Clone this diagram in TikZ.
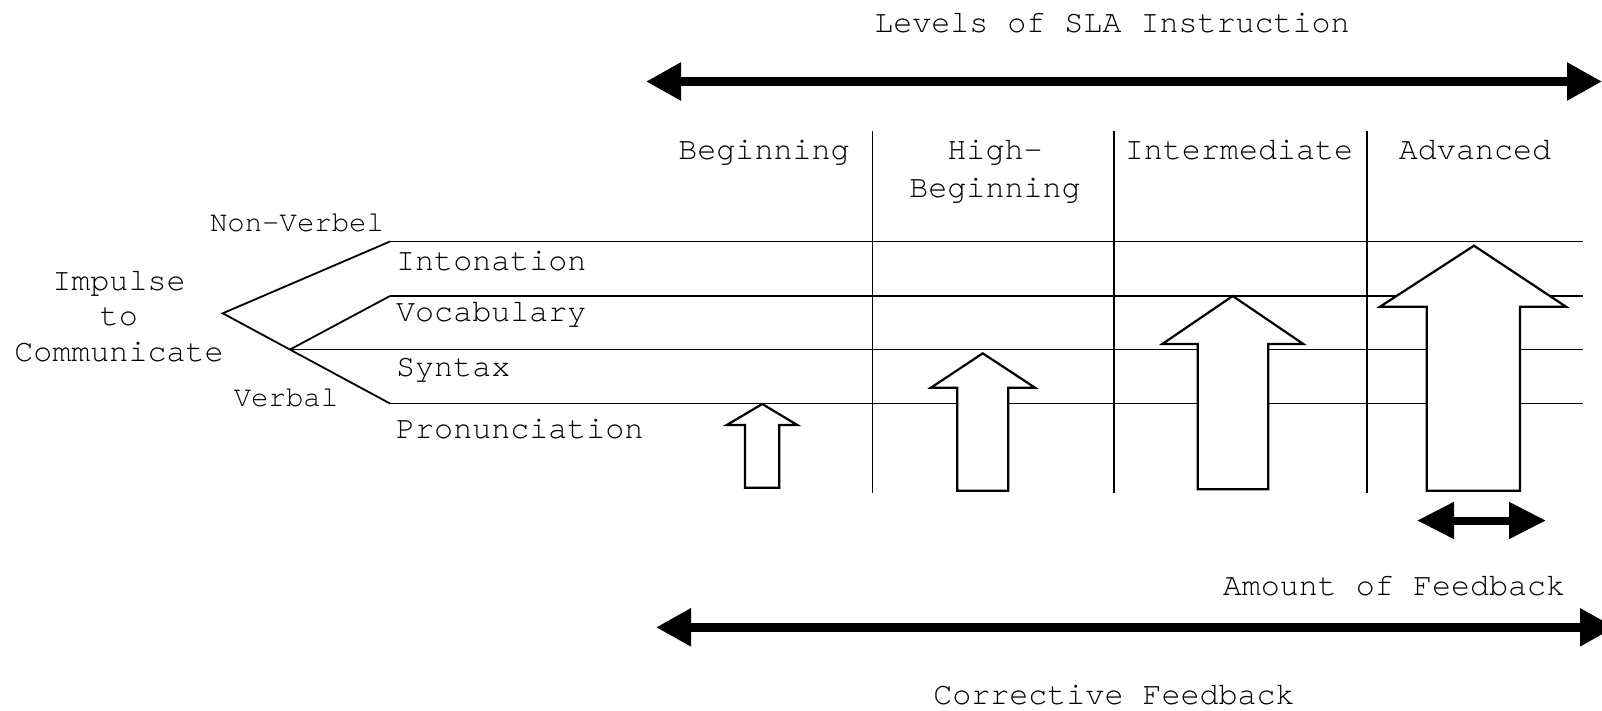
\documentclass[tikz,border=0pt]{standalone}
\usepackage{fontspec}
\setmainfont{TeX Gyre Cursor}
\usetikzlibrary{arrows.meta}
\begin{document}
\begin{tikzpicture}[x=1pt,y=-1pt,
  txt/.style={font=\fontsize{31.7}{37}\selectfont, inner sep=0pt, anchor=base},
  smalltxt/.style={txt, font=\fontsize{29}{34}\selectfont},
  rowlabel/.style={txt, anchor=base west},
  rule/.style={line width=1.8pt},
  bigarrow/.style={line width=8.5pt, {Triangle[length=35pt,width=36pt]}-{Triangle[length=35pt,width=36pt]}},
  smallarrow/.style={line width=8pt, {Triangle[length=37pt,width=35pt]}-{Triangle[length=37pt,width=35pt]}},
  blockarrow/.style={draw, line width=2.2pt, fill=white, line join=miter}
]
\useasboundingbox (0,0) rectangle (1602,710);
\fill[white] (0,0) rectangle (1602,710);
\clip (0,0) rectangle (1602,710);

% titles and arrows
\node[txt] (title) at (1112,32) {Levels of SLA Instruction};
\coordinate (tl) at (646,81.5);
\coordinate (tr) at (1602,81.5);
\draw[bigarrow] (tl) -- (tr);

\node[txt] (amount) at (1394,595) {Amount of Feedback};
\coordinate (al) at (1417,520.5);
\coordinate (ar) at (1546,520.5);
\draw[smallarrow] (al) -- (ar);

\coordinate (bl) at (656,627.3);
\coordinate (br) at (1615,627.3);
\draw[bigarrow] (bl) -- (br);
\node[txt] (corr) at (1114,704) {Corrective Feedback};

% level labels
\node[txt] (beg) at (764,159) {Beginning};
\node[txt, align=center, font=\fontsize{31.7}{38}\selectfont] (hbeg) at (995,197) {High-\\Beginning};
\node[txt] (inter) at (1239,159) {Intermediate};
\node[txt] (adv) at (1475,159) {Advanced};

% dividers
\foreach \x/\n in {872.5/a,1114/b,1367/c}{
  \coordinate (d\n t) at (\x,130.8);
  \coordinate (d\n b) at (\x,493.3);
  \draw[rule] (d\n t) -- (d\n b);
}

% left labels
\node[txt, align=center, font=\fontsize{31.7}{35.5}\selectfont] (imp) at (119,361) {Impulse\\to\\Communicate};
\node[smalltxt] (nonv) at (297,231.7) {Non-Verbel};
\node[smalltxt] (verb) at (286,406.7) {Verbal};

% branch
\coordinate (apex) at (222.7,313.3);
\coordinate (h1l) at (390,241.5);
\coordinate (h2l) at (390,296);
\coordinate (h3l) at (290,349.5);
\coordinate (h4l) at (390,403.5);
\coordinate (h1r) at (1583,241.5);
\coordinate (h2r) at (1583,296);
\coordinate (h3r) at (1583,349.5);
\coordinate (h4r) at (1583,403.5);
\draw[rule, line join=miter] (h1l) -- (apex) -- (h4l);
\draw[rule] (h3l) -- (h2l);
\draw[rule] (h1l) -- (h1r);
\draw[rule] (h2l) -- (h2r);
\draw[rule] (h3l) -- (h3r);
\draw[rule] (h4l) -- (h4r);

\node[rowlabel] (into) at (396,270) {Intonation};
\node[rowlabel] (voc) at (396,321.7) {Vocabulary};
\node[rowlabel] (syn) at (396,376.7) {Syntax};
\node[rowlabel] (pron) at (396,438) {Pronunciation};

% block arrows
\draw[blockarrow] (745,487.7) -- (745,425) -- (726.7,425) -- (762.3,404) -- (797.3,425) -- (779.3,425) -- (779.3,487.7) -- cycle;
\draw[blockarrow] (957.3,490.7) -- (957.3,387.7) -- (931,387.7) -- (982.7,353.3) -- (1035,387.7) -- (1008.3,387.7) -- (1008.3,490.7) -- cycle;
\draw[blockarrow] (1197.7,489.3) -- (1197.7,344) -- (1162.3,344) -- (1232.7,296) -- (1303.3,344) -- (1268.3,344) -- (1268.3,489.3) -- cycle;
\draw[blockarrow] (1426.7,490.7) -- (1426.7,306.7) -- (1380,306.7) -- (1474,245.7) -- (1566,306.7) -- (1520,306.7) -- (1520,490.7) -- cycle;
\end{tikzpicture}
\end{document}
